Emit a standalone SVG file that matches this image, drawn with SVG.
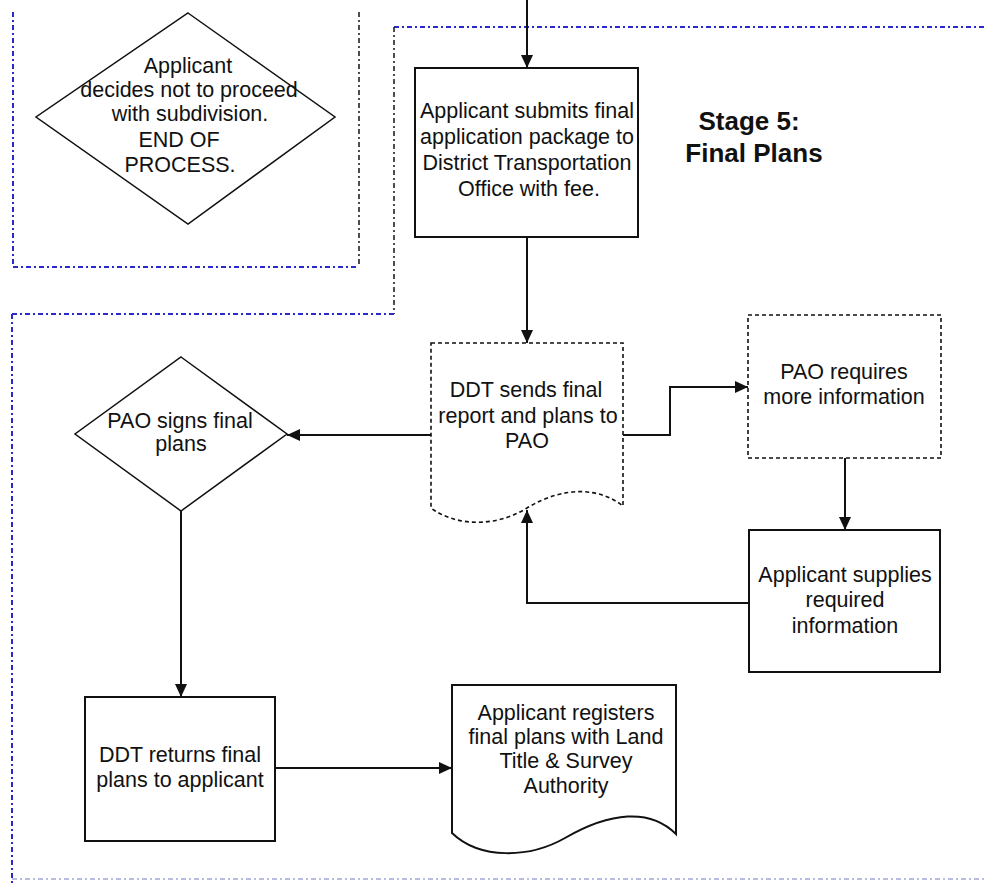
<svg xmlns="http://www.w3.org/2000/svg" width="985" height="886" viewBox="0 0 985 886">
<style>
.bg{fill:#ffffff}
.t{font-family:"Liberation Sans",Arial,sans-serif;font-size:21.5px;fill:#111;text-anchor:middle}
.h{font-family:"Liberation Sans",Arial,sans-serif;font-size:26px;font-weight:bold;fill:#111;text-anchor:middle}
.box{fill:#fff;stroke:#111;stroke-width:2}
.dbox{fill:#fff;stroke:#111;stroke-width:1.6;stroke-dasharray:4 3}
.dia{fill:#fff;stroke:#111;stroke-width:1.5}
.blue{fill:none;stroke:#2a2acc;stroke-width:2;stroke-dasharray:5 3 2 3}
.blk{fill:none;stroke:#222;stroke-width:1.6;stroke-dasharray:5 3 2 3}
.faint{fill:none;stroke:#b8bde0;stroke-width:2;stroke-dasharray:5 3 2 3}
.c{fill:none;stroke:#111;stroke-width:2;marker-end:url(#arr)}
</style>
<defs>
<marker id="arr" markerUnits="userSpaceOnUse" markerWidth="14" markerHeight="12" refX="13" refY="6" orient="auto">
<path d="M0,0 L13,6 L0,12 Z" fill="#111"/>
</marker>
</defs>
<rect class="bg" x="0" y="0" width="985" height="886"/>
<g id="regions">
<line class="blue" x1="13" y1="12" x2="13" y2="267"/>
<line class="blue" x1="13" y1="267" x2="359" y2="267"/>
<line class="blk" x1="359" y1="12" x2="359" y2="267"/>
<line class="blue" x1="394" y1="27" x2="985" y2="27"/>
<line class="blk" x1="394" y1="27" x2="394" y2="314"/>
<line class="blue" x1="12" y1="314" x2="394" y2="314"/>
<line class="blue" x1="12" y1="314" x2="12" y2="886"/>
<line class="faint" x1="12" y1="879" x2="985" y2="879"/>
</g>
<g id="stage-title">
<text class="h" x="749" y="130">Stage 5:</text>
<text class="h" x="754" y="162">Final Plans</text>
</g>
<g id="connectors">
<path class="c" d="M527,0 V68"/>
<path class="c" d="M527,237 V343"/>
<path class="c" d="M431,435 H287"/>
<path class="c" d="M623,435 H670 V387 H748"/>
<path class="c" d="M845,458 V530"/>
<path class="c" d="M749,603 H527 V510"/>
<path class="c" d="M181,511 V697"/>
<path class="c" d="M275,768 H452"/>
</g>
<g id="n-end">
<polygon class="dia" points="188,13 335,117 188,224 36,117"/>
<text class="t" x="188" y="73">Applicant</text>
<text class="t" x="189" y="97">decides not to proceed</text>
<text class="t" x="190" y="121">with subdivision.</text>
<text class="t" x="179" y="147">END OF</text>
<text class="t" x="180" y="172">PROCESS.</text>
</g>
<g id="n-submit">
<rect class="box" x="415" y="68" width="223" height="169"/>
<text class="t" x="527" y="118">Applicant submits final</text>
<text class="t" x="527" y="144">application package to</text>
<text class="t" x="527" y="170">District Transportation</text>
<text class="t" x="529" y="196">Office with fee.</text>
</g>
<g id="n-ddt-sends">
<path class="dbox" d="M431,343 H623 V506 C600,488 565,485 527,508 C495,528 455,526 431,508 Z"/>
<text class="t" x="526" y="397">DDT sends final</text>
<text class="t" x="528" y="423">report and plans to</text>
<text class="t" x="527" y="448">PAO</text>
</g>
<g id="n-pao-req">
<rect class="dbox" x="748" y="315" width="193" height="143"/>
<text class="t" x="844" y="379">PAO requires</text>
<text class="t" x="844" y="404">more information</text>
</g>
<g id="n-supplies">
<rect class="box" x="749" y="530" width="191" height="142"/>
<text class="t" x="845" y="582">Applicant supplies</text>
<text class="t" x="845" y="607">required</text>
<text class="t" x="845" y="633">information</text>
</g>
<g id="n-pao-signs">
<polygon class="dia" points="181,357 287,434 181,511 75,434"/>
<text class="t" x="180" y="428">PAO signs final</text>
<text class="t" x="181" y="451">plans</text>
</g>
<g id="n-ddt-returns">
<rect class="box" x="85" y="697" width="190" height="144"/>
<text class="t" x="180" y="762">DDT returns final</text>
<text class="t" x="180" y="787">plans to applicant</text>
</g>
<g id="n-register">
<path class="box" d="M452,685 H676 V834 C650,808 610,812 565,838 C530,858 480,860 452,833 Z"/>
<text class="t" x="566" y="720">Applicant registers</text>
<text class="t" x="566" y="744">final plans with Land</text>
<text class="t" x="566" y="768">Title &amp; Survey</text>
<text class="t" x="566" y="793">Authority</text>
</g>
</svg>
